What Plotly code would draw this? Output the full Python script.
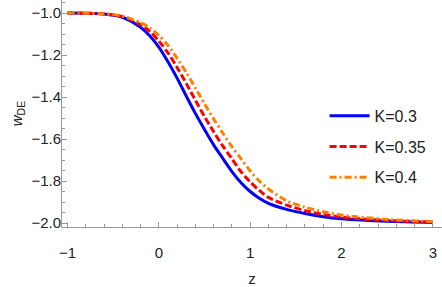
import plotly.graph_objects as go

z = [-1.0, -0.8, -0.6, -0.4, -0.2, -0.1, 0.0, 0.1, 0.2, 0.3, 0.4, 0.5, 0.6, 0.7,
     0.8, 0.9, 1.0, 1.1, 1.2, 1.4, 1.6, 1.8, 2.0, 2.5, 3.0]

w_k03 = [-1.000, -1.001, -1.005, -1.020, -1.068, -1.108, -1.162, -1.232, -1.310,
         -1.395, -1.478, -1.555, -1.628, -1.692, -1.755, -1.808, -1.850, -1.882,
         -1.906, -1.935, -1.955, -1.970, -1.980, -1.992, -1.997]
w_k035 = [-1.000, -1.001, -1.0045, -1.017, -1.055, -1.087, -1.133, -1.190, -1.259,
          -1.335, -1.415, -1.493, -1.565, -1.633, -1.694, -1.756, -1.804, -1.845,
          -1.878, -1.915, -1.941, -1.959, -1.972, -1.988, -1.995]
w_k04 = [-1.000, -1.001, -1.004, -1.014, -1.046, -1.071, -1.106, -1.154, -1.215,
         -1.283, -1.357, -1.432, -1.504, -1.572, -1.636, -1.694, -1.752, -1.800,
         -1.838, -1.894, -1.925, -1.946, -1.962, -1.983, -1.993]

names = ["K=0.3", "K=0.35", "K=0.4"]
colors = ["#0000FF", "#FF0000", "#FF8000"]
dashes = ["solid", "7px,3px", "7px,3px,2px,3px"]
series = [w_k03, w_k035, w_k04]

fig = go.Figure()
for nm, col, ds, ys in zip(names, colors, dashes, series):
    fig.add_trace(go.Scatter(x=z, y=ys, mode="lines", name=nm, legendgroup=nm,
                             line=dict(color=col, width=3, dash=ds, shape="spline", smoothing=0.8)))

axis_common = dict(showline=True, linecolor="#999999", linewidth=1, ticks="inside",
                   ticklen=5, tickcolor="#999999", tickwidth=1, showgrid=False,
                   zeroline=False, mirror=False, automargin=False,
                   tickfont=dict(family="Liberation Sans, Arial", size=15, color="#222222"))

fig.update_layout(
    width=442, height=287,
    margin=dict(l=62, r=0, t=0, b=60),
    paper_bgcolor="white", plot_bgcolor="white",
    font=dict(family="Liberation Sans, Arial", size=15, color="#222222"),
    xaxis=dict(range=[-1.06, 3.10], tickvals=[-1, 0, 1, 2, 3],
               minor=dict(dtick=0.2, ticks="inside", ticklen=3, tickcolor="#999999"),
               ticklabelstandoff=12,
               title=dict(text="z", font=dict(size=15), standoff=14),
               **axis_common),
    yaxis=dict(range=[-2.019, -0.938], tickvals=[-2.0, -1.8, -1.6, -1.4, -1.2, -1.0],
               tickformat=".1f",
               minor=dict(dtick=0.05, ticks="inside", ticklen=3, tickcolor="#999999"),
               ticklabelstandoff=-3,
               title=dict(text="<i>w</i><sub>DE</sub>", font=dict(size=15), standoff=5),
               **axis_common),
    showlegend=True,
    legend=dict(x=0.691, y=0.565, xanchor="left", yanchor="top",
                font=dict(size=16), tracegroupgap=7, itemwidth=40,
                bgcolor="rgba(0,0,0,0)"),
)

fig.write_html("out.html", config={"displayModeBar": False},
               post_script="document.body.style.margin='0';document.body.style.padding='0';")
